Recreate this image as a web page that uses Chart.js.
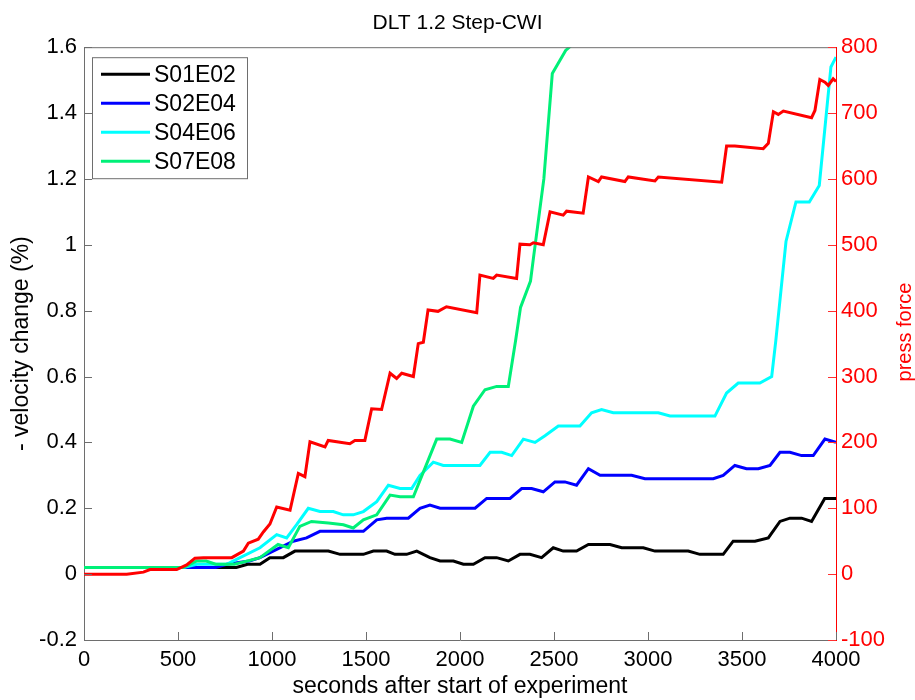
<!DOCTYPE html>
<html>
<head>
<meta charset="utf-8">
<script src="https://cdn.jsdelivr.net/npm/chart.js@4"></script>
<style>
  body { margin: 0; background: #fff; }
  canvas { display: block; }
</style>
</head>
<body>
<canvas id="chart" width="915" height="700"></canvas>
<script>
// Values (time in seconds, velocity change in %, force)
const blackTime = [0, 560, 810, 870, 936, 989, 1060, 1122, 1300, 1362, 1486, 1539, 1610, 1654, 1716, 1770, 1840, 1894, 1965, 2018, 2071, 2133, 2195, 2257, 2319, 2372, 2434, 2496, 2549, 2620, 2683, 2798, 2860, 2975, 3037, 3214, 3276, 3400, 3453, 3569, 3640, 3702, 3755, 3817, 3870, 3940, 4000];
const blackVel = [0.02, 0.02, 0.02, 0.03, 0.03, 0.05, 0.05, 0.07, 0.07, 0.06, 0.06, 0.07, 0.07, 0.06, 0.06, 0.07, 0.05, 0.04, 0.04, 0.03, 0.03, 0.05, 0.05, 0.04, 0.06, 0.06, 0.05, 0.08, 0.07, 0.07, 0.09, 0.09, 0.08, 0.08, 0.07, 0.07, 0.06, 0.06, 0.10, 0.10, 0.11, 0.16, 0.17, 0.17, 0.16, 0.23, 0.23];

const blueTime = [0, 700, 759, 880, 936, 1041, 1113, 1184, 1255, 1486, 1557, 1610, 1725, 1787, 1840, 1894, 2080, 2142, 2266, 2328, 2381, 2443, 2505, 2558, 2620, 2683, 2745, 2913, 2984, 3347, 3400, 3462, 3524, 3587, 3649, 3702, 3755, 3817, 3879, 3941, 4000];
const blueVel = [0.02, 0.02, 0.03, 0.04, 0.05, 0.08, 0.10, 0.11, 0.13, 0.13, 0.165, 0.17, 0.17, 0.20, 0.21, 0.20, 0.20, 0.23, 0.23, 0.26, 0.26, 0.25, 0.28, 0.28, 0.27, 0.32, 0.30, 0.30, 0.29, 0.29, 0.30, 0.33, 0.32, 0.32, 0.33, 0.37, 0.37, 0.36, 0.36, 0.41, 0.40];

const cyanTime = [0, 530, 600, 759, 830, 936, 1025, 1078, 1131, 1193, 1255, 1326, 1379, 1432, 1486, 1557, 1619, 1681, 1743, 1787, 1858, 1911, 2106, 2160, 2222, 2275, 2337, 2399, 2452, 2523, 2638, 2700, 2753, 2815, 3055, 3117, 3356, 3418, 3480, 3595, 3658, 3680, 3734, 3787, 3858, 3911, 3973, 4000];
const cyanVel = [0.02, 0.02, 0.03, 0.03, 0.05, 0.08, 0.12, 0.11, 0.15, 0.20, 0.19, 0.19, 0.18, 0.18, 0.19, 0.22, 0.27, 0.26, 0.26, 0.30, 0.34, 0.33, 0.33, 0.37, 0.37, 0.36, 0.41, 0.40, 0.42, 0.45, 0.45, 0.49, 0.50, 0.49, 0.49, 0.48, 0.48, 0.55, 0.58, 0.58, 0.60, 0.71, 1.01, 1.13, 1.13, 1.18, 1.54, 1.57];

const greenTime = [0, 530, 600, 650, 700, 800, 870, 936, 1032, 1087, 1148, 1210, 1300, 1380, 1432, 1486, 1557, 1628, 1681, 1752, 1876, 1947, 2009, 2071, 2133, 2195, 2257, 2296, 2322, 2375, 2393, 2446, 2491, 2562, 2620, 2700];
const greenVel = [0.02, 0.02, 0.04, 0.04, 0.03, 0.03, 0.04, 0.05, 0.09, 0.08, 0.145, 0.16, 0.155, 0.15, 0.14, 0.165, 0.18, 0.24, 0.235, 0.235, 0.41, 0.41, 0.40, 0.51, 0.56, 0.57, 0.57, 0.71, 0.81, 0.89, 0.97, 1.20, 1.52, 1.59, 1.62, 1.65];

const forceTime = [0, 227, 316, 351, 493, 546, 590, 635, 786, 848, 874, 927, 954, 989, 1025, 1096, 1140, 1175, 1202, 1282, 1299, 1414, 1441, 1494, 1530, 1583, 1628, 1663, 1690, 1752, 1778, 1805, 1830, 1883, 1928, 2089, 2106, 2177, 2195, 2301, 2319, 2372, 2390, 2443, 2479, 2549, 2567, 2655, 2683, 2736, 2753, 2877, 2895, 3037, 3055, 3392, 3418, 3462, 3613, 3640, 3667, 3693, 3720, 3870, 3888, 3914, 3941, 3959, 3985, 4000];
const forceVal = [0, 0, 3, 7, 7, 14, 24, 25, 25, 35, 47, 53, 64, 76, 102, 97, 153, 148, 201, 193, 203, 198, 203, 203, 251, 250, 305, 297, 305, 300, 350, 352, 401, 399, 406, 397, 454, 449, 454, 449, 501, 500, 503, 500, 550, 545, 551, 548, 603, 596, 603, 596, 603, 597, 603, 595, 650, 650, 646, 654, 702, 698, 703, 693, 704, 751, 747, 742, 752, 748];

const seriesNames = ['S01E02', 'S02E04', 'S04E06', 'S07E08'];
const seriesColors = ['#000000', '#0000ff', '#00ffff', '#00f078'];

const xTicks = [0, 500, 1000, 1500, 2000, 2500, 3000, 3500, 4000];

function toPoints(times, vals) {
    return times.map((t, i) => ({ x: t, y: vals[i] }));
}

const FONT = '"Liberation Sans", Arial, sans-serif';
const AXIS_GREY = '#6e6e6e';

// Draws the inward tick marks, the top border, the legend box and the right axis label
const matlabFrame = {
    id: 'matlabFrame',
    afterDraw(chart) {
        const { ctx, chartArea: a, scales } = chart;
        ctx.save();
        ctx.lineWidth = 1;

        // top border
        ctx.strokeStyle = AXIS_GREY;
        ctx.beginPath();
        ctx.moveTo(a.left, a.top + 0.5);
        ctx.lineTo(a.right, a.top + 0.5);
        ctx.stroke();

        // x ticks, pointing up into the plot
        ctx.beginPath();
        scales.x.ticks.forEach(t => {
            const px = Math.round(scales.x.getPixelForValue(t.value)) + 0.5;
            ctx.moveTo(px, a.bottom);
            ctx.lineTo(px, a.bottom - 8);
        });
        // left y ticks
        scales.y.ticks.forEach(t => {
            const py = Math.round(scales.y.getPixelForValue(t.value)) + 0.5;
            ctx.moveTo(a.left, py);
            ctx.lineTo(a.left + 8, py);
        });
        ctx.stroke();

        // right y ticks in red
        ctx.strokeStyle = '#ff3030';
        ctx.beginPath();
        scales.y2.ticks.forEach(t => {
            const py = Math.round(scales.y2.getPixelForValue(t.value)) + 0.5;
            ctx.moveTo(a.right, py);
            ctx.lineTo(a.right - 8, py);
        });
        ctx.stroke();

        // legend box inside the plot
        const bx = a.left + 8, by = a.top + 10, bw = 155, bh = 121;
        ctx.fillStyle = '#fff';
        ctx.fillRect(bx, by, bw, bh);
        ctx.strokeStyle = AXIS_GREY;
        ctx.strokeRect(bx + 0.5, by + 0.5, bw, bh);
        ctx.font = '23px ' + FONT;
        ctx.textBaseline = 'middle';
        ctx.textAlign = 'left';
        seriesNames.forEach((name, i) => {
            const ly = by + 17 + i * 29;
            ctx.strokeStyle = seriesColors[i];
            ctx.lineWidth = 3;
            ctx.beginPath();
            ctx.moveTo(bx + 9, ly);
            ctx.lineTo(bx + 58, ly);
            ctx.stroke();
            ctx.fillStyle = '#000';
            ctx.fillText(name, bx + 62, ly + 1);
        });

        // right axis title, reading bottom to top
        ctx.translate(905, 332);
        ctx.rotate(-Math.PI / 2);
        ctx.fillStyle = '#ff0000';
        ctx.textAlign = 'center';
        ctx.font = '20px ' + FONT;
        ctx.fillText('press force', 0, 0);
        ctx.restore();
    }
};

function fmt(v) {
    return String(parseFloat(Number(v).toFixed(2)));
}

const lineStyle = { pointRadius: 0, borderWidth: 3, tension: 0, fill: false, clip: 0 };

new Chart(document.getElementById('chart'), {
    type: 'line',
    data: {
        datasets: [
            { ...lineStyle, label: 'force', data: toPoints(forceTime, forceVal), borderColor: '#ff0000', yAxisID: 'y2', order: 0 },
            { ...lineStyle, label: seriesNames[3], data: toPoints(greenTime, greenVel), borderColor: seriesColors[3], yAxisID: 'y', order: 1 },
            { ...lineStyle, label: seriesNames[2], data: toPoints(cyanTime, cyanVel), borderColor: seriesColors[2], yAxisID: 'y', order: 2 },
            { ...lineStyle, label: seriesNames[1], data: toPoints(blueTime, blueVel), borderColor: seriesColors[1], yAxisID: 'y', order: 3 },
            { ...lineStyle, label: seriesNames[0], data: toPoints(blackTime, blackVel), borderColor: seriesColors[0], yAxisID: 'y', order: 4 }
        ]
    },
    options: {
        responsive: false,
        animation: false,
        devicePixelRatio: 1,
        plugins: {
            legend: { display: false },
            tooltip: { enabled: false },
            title: {
                display: true,
                text: 'DLT 1.2 Step-CWI',
                color: '#000',
                font: { family: FONT, size: 21, weight: 'normal', lineHeight: 1.2 },
                padding: { top: 11, bottom: 11 }
            }
        },
        scales: {
            x: {
                type: 'linear',
                min: 0,
                max: 4000,
                afterBuildTicks: scale => { scale.ticks = xTicks.map(v => ({ value: v })); },
                afterFit: scale => { scale.height = 60; },
                grid: { display: false, drawTicks: false },
                border: { display: true, color: AXIS_GREY, width: 1 },
                ticks: { color: '#000', padding: 7, maxRotation: 0, font: { family: FONT, size: 22 }, callback: v => fmt(v) },
                title: { display: true, text: 'seconds after start of experiment', color: '#000', font: { family: FONT, size: 23, lineHeight: 1 }, padding: { top: 0, bottom: 2 } }
            },
            y: {
                position: 'left',
                min: -0.2,
                max: 1.6,
                afterFit: scale => { scale.width = 84; },
                grid: { display: false, drawTicks: false },
                border: { display: true, color: AXIS_GREY, width: 1 },
                ticks: { stepSize: 0.2, color: '#000', padding: 7, font: { family: FONT, size: 22 }, callback: v => fmt(v) },
                title: { display: true, text: '- velocity change (%)', color: '#000', font: { family: FONT, size: 23, lineHeight: 1.2 }, padding: { top: 8, bottom: 0 } }
            },
            y2: {
                position: 'right',
                min: -100,
                max: 800,
                afterFit: scale => { scale.width = 79; },
                grid: { display: false, drawTicks: false },
                border: { display: true, color: '#ff0000', width: 1 },
                ticks: { stepSize: 100, color: '#ff0000', padding: 5, font: { family: FONT, size: 22 }, callback: v => fmt(v) }
            }
        }
    },
    plugins: [matlabFrame]
});
</script>
</body>
</html>
